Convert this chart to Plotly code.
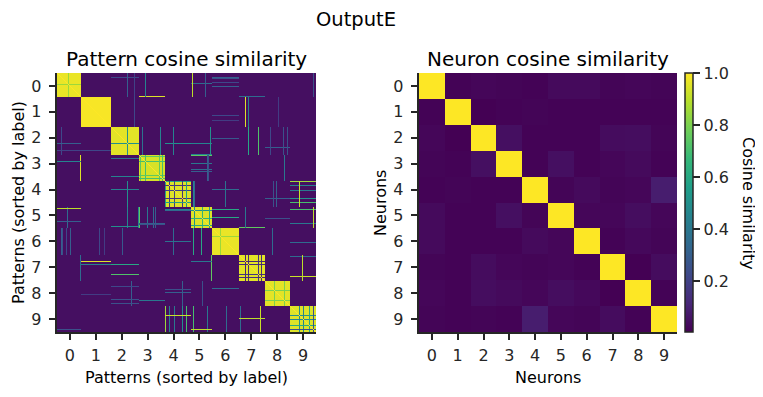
import numpy as np
import plotly.graph_objects as go

# ---------------- data ----------------
class_labels = ["0", "1", "2", "3", "4", "5", "6", "7", "8", "9"]
class_counts = [24, 30, 28, 26, 26, 21, 27, 26, 25, 26]          # patterns per label (sorted)
within_class_sim = [0.97, 0.99, 0.96, 0.94, 0.95, 0.95, 0.97, 0.96, 0.96, 0.95]
between_class_sim = 0.04

# individual patterns whose similarity to a whole label group stands out
outlier_pattern = [4, 4, 5, 9, 10, 11, 13, 23, 23,
                   42, 47,
                   65, 70, 70, 70, 70, 74, 77, 77, 81,
                   82, 83, 85, 88, 88, 90, 96, 98, 102, 103, 105,
                   108, 108, 112, 112, 116, 116, 117, 117, 125, 125, 125, 129, 129,
                   135, 136, 136, 136, 137, 137, 144, 145, 145, 148, 150, 150, 151, 152, 153, 154,
                   163, 168, 169,
                   183, 188, 188, 188, 191, 191, 191, 201, 201, 203, 204,
                   213, 215, 216, 217, 219, 221, 226, 227, 227, 230,
                   242, 242, 245, 246, 252, 256, 256, 256]
outlier_class = [6, 2, 6, 6, 5, 0, 6, 3, 7,
                 6, 6,
                 6, 2, 4, 5, 0, 8, 1, 0, 5,
                 5, 3, 2, 0, 3, 5, 5, 5, 3, 2, 3,
                 9, 4, 9, 4, 2, 6, 9, 4, 9, 4, 8, 9, 4,
                 0, 9, 6, 4, 5, 4, 6, 5, 8, 0, 9, 3, 3, 5, 2, 7,
                 6, 4, 9,
                 9, 1, 5, 7, 1, 2, 7, 2, 7, 9, 7,
                 2, 6, 4, 8, 4, 1, 2, 3, 8, 2,
                 4, 9, 7, 9, 9, 5, 9, 0]
outlier_sim = [0.30, 0.22, 0.25, 0.22, 0.35, 0.85, 0.30, 0.95, 0.35,
               0.22, 0.18,
               0.28, 0.50, 0.50, 0.45, 0.30, 0.30, 0.22, 0.20, 0.45,
               0.75, 0.75, 0.38, 0.45, 0.70, 0.40, 0.35, 0.30, 0.75, 0.45, 0.70,
               0.85, 0.60, 0.45, 0.15, 0.45, 0.35, 0.40, 0.20, 0.50, 0.15, 0.30, 0.70, 0.55,
               0.90, 0.70, 0.60, 0.45, 0.50, 0.35, 0.60, 0.65, 0.25, 0.30, 0.40, 0.30, 0.25, 0.60, 0.50, 0.75,
               0.85, 0.38, 0.35,
               0.35, 0.95, 0.40, 0.10, 0.45, 0.60, 0.12, 0.72, 0.15, 0.92, 0.12,
               0.22, 0.35, 0.25, 0.80, 0.30, 0.18, 0.25, 0.40, 0.80, 0.25,
               0.92, 0.50, 0.90, 0.45, 0.60, 0.90, 0.25, 0.25]

neuron_labels = ["0", "1", "2", "3", "4", "5", "6", "7", "8", "9"]
neuron_sim = [
    [1.000, 0.010, 0.020, 0.015, 0.010, 0.030, 0.030, 0.015, 0.020, 0.015],
    [0.010, 1.000, 0.005, 0.010, 0.015, 0.010, 0.010, 0.010, 0.010, 0.010],
    [0.020, 0.005, 1.000, 0.045, 0.010, 0.010, 0.010, 0.035, 0.040, 0.015],
    [0.015, 0.010, 0.045, 1.000, 0.010, 0.045, 0.010, 0.020, 0.030, 0.010],
    [0.010, 0.015, 0.010, 0.010, 1.000, 0.015, 0.030, 0.015, 0.020, 0.085],
    [0.030, 0.010, 0.010, 0.045, 0.015, 1.000, 0.020, 0.020, 0.040, 0.020],
    [0.030, 0.010, 0.010, 0.010, 0.030, 0.020, 1.000, 0.010, 0.025, 0.015],
    [0.015, 0.010, 0.035, 0.020, 0.015, 0.020, 0.010, 1.000, 0.005, 0.035],
    [0.020, 0.010, 0.040, 0.030, 0.020, 0.040, 0.025, 0.005, 1.000, 0.010],
    [0.015, 0.010, 0.015, 0.010, 0.085, 0.020, 0.015, 0.035, 0.010, 1.000],
]
colorbar_ticks = [0.2, 0.4, 0.6, 0.8, 1.0]

# ---------------- build pattern matrix ----------------
starts = np.concatenate([[0], np.cumsum(class_counts)])
N = int(starts[-1])
P = np.full((N, N), between_class_sim)
for c in range(len(class_counts)):
    s, e = starts[c], starts[c + 1]
    P[s:e, s:e] = within_class_sim[c]
for p, c, v in zip(outlier_pattern, outlier_class, outlier_sim):
    s, e = starts[c], starts[c + 1]
    P[p, s:e] = v
    P[s:e, p] = v
np.fill_diagonal(P, 1.0)

# ---------------- figure ----------------
# the page body has an 8px margin, so the figure is drawn 8px in from the window corner
OFF = 8
W, H = 763 - OFF, 397 - OFF
FONT = "DejaVu Sans"
INK = "#262626"

def px_x(x):
    return (x - OFF) / W

def px_y(y):
    return 1 - (y - OFF) / H

TOP, BOT = 73, 332

fig = go.Figure()
fig.add_trace(go.Heatmap(z=P, x=np.arange(N), y=np.arange(N), colorscale="Viridis",
                         zmin=0, zmax=1, showscale=False, xaxis="x", yaxis="y",
                         zsmooth=False, hoverinfo="skip"))
nz = np.array(neuron_sim)
fig.add_trace(go.Heatmap(z=nz, x=np.arange(10), y=np.arange(10), colorscale="Viridis",
                         zmin=float(nz.min()), zmax=1.0, xaxis="x2", yaxis="y2",
                         colorbar=dict(x=px_x(685), xanchor="left", xpad=0, ypad=0,
                                       y=px_y(BOT), yanchor="bottom", len=(BOT - TOP) / H,
                                       lenmode="fraction", thickness=7.7, thicknessmode="pixels",
                                       outlinewidth=1.5, outlinecolor=INK,
                                       tickvals=colorbar_ticks, ticktext=[f"{t:.1f}" for t in colorbar_ticks],
                                       ticks="outside", ticklen=7, tickwidth=1.6, tickcolor=INK,
                                       tickfont=dict(family=FONT, size=16, color=INK)),
                         hoverinfo="skip"))

ydom = [px_y(BOT), px_y(TOP)]
common = dict(showgrid=False, zeroline=False, showline=True, linecolor=INK, linewidth=1.7,
              ticks="outside", ticklen=6.5, tickwidth=1.7, tickcolor=INK, automargin=False,
              tickfont=dict(family=FONT, size=16, color=INK), mirror=False)
left_ticks = [(i + 0.5) * N / 10 - 0.5 for i in range(10)]
fig.update_layout(
    template="none", width=W, height=H,
    margin=dict(l=0, r=0, t=0, b=0),
    paper_bgcolor="white", plot_bgcolor="white",
    font=dict(family=FONT, color=INK),
    xaxis=dict(domain=[px_x(57), px_x(57 + N)], range=[-0.5, N - 0.5],
               tickvals=left_ticks, ticktext=class_labels, anchor="y",
               ticklabelstandoff=1, **common),
    yaxis=dict(domain=ydom, range=[N - 0.5, -0.5],
               tickvals=left_ticks, ticktext=class_labels, anchor="x",
               ticklabelstandoff=4, **common),
    xaxis2=dict(domain=[px_x(419), px_x(677)], range=[-0.5, 9.5],
                tickvals=list(range(10)), ticktext=neuron_labels, anchor="y2",
                ticklabelstandoff=1, **common),
    yaxis2=dict(domain=ydom, range=[9.5, -0.5],
                tickvals=list(range(10)), ticktext=neuron_labels, anchor="x2",
                ticklabelstandoff=4, **common),
)

def text(s, x, y, size, angle=0):
    fig.add_annotation(text=s, x=px_x(x), y=px_y(y), xref="paper", yref="paper",
                       showarrow=False, xanchor="center", yanchor="middle", textangle=angle,
                       font=dict(family=FONT, size=size, color="black"))

text("OutputE", 356.3, 19.5, 19.5)
text("Pattern cosine similarity", 186.7, 59, 20)
text("Neuron cosine similarity", 548, 59, 20)
text("Patterns (sorted by label)", 186.5, 377, 16)
text("Neurons", 548, 377, 16)
text("Patterns (sorted by label)", 19, 203, 16, -90)
text("Neurons", 381, 203, 16, -90)
text("Cosine similarity", 748, 203, 16, 90)

fig.write_html("out.html")
